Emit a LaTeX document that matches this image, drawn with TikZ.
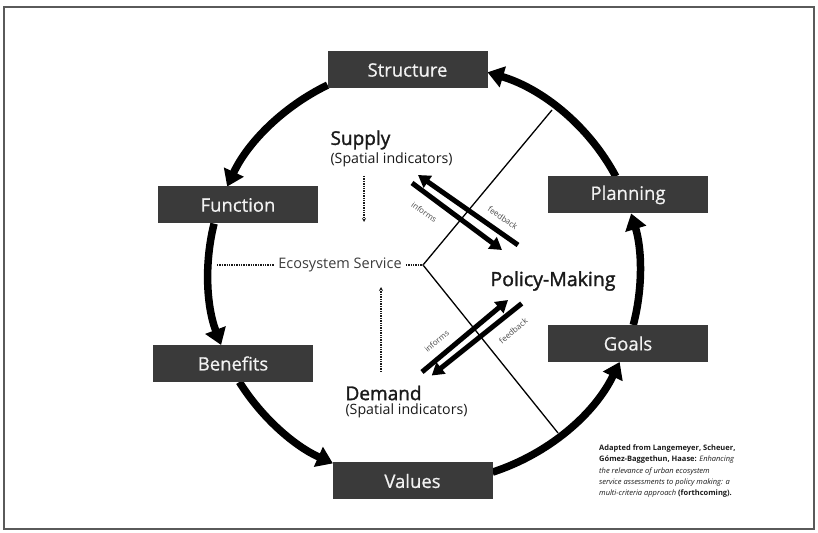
\documentclass[tikz,border=0pt]{standalone}
\usepackage{fontspec}
\setmainfont{Open Sans}
\newfontfamily\semib[FakeBold=1.6]{Open Sans}
\newfontfamily\boxf[FakeBold=0.6]{Open Sans}
\usetikzlibrary{arrows.meta,backgrounds,calc}
\definecolor{boxgray}{HTML}{3A3A3A}
\definecolor{boxtext}{HTML}{F2F2F2}
\definecolor{txt}{HTML}{1A1A1A}
\definecolor{framegray}{HTML}{5A5A5A}
\begin{document}
\begin{tikzpicture}[x=1pt,y=1pt,
  stagebox/.style={fill=boxgray, text=boxtext, minimum width=160pt, minimum height=37pt, inner sep=0pt, font=\boxf\fontsize{18.5}{21}\selectfont},
  cyc/.style={line width=7.5pt, -{Triangle[length=16pt,width=21pt]}},
  pair/.style={line width=5pt, -{Triangle[length=12pt,width=14pt]}},
  divline/.style={line width=1.3pt, black},
  dotline/.style={densely dotted, line width=1.4pt, txt},
  small/.style={font=\fontsize{8}{9}\selectfont, text=txt!80, inner sep=0.5pt},
  bigtext/.style={font=\semib\fontsize{19}{22}\selectfont, text=txt},
  subtext/.style={font=\fontsize{14.2}{17}\selectfont, text=txt},
]
\useasboundingbox (0,0) rectangle (818,532);
\draw[line width=1.2pt, framegray] (4,3) rectangle (814,525);

% stage boxes
\node[stagebox] (structure) at (407.5,462) {Structure};
\node[stagebox] (function) at (238,327) {Function};
\node[stagebox] (benefits) at (233,168.5) {Benefits};
\node[stagebox] (values) at (412.5,51) {Values};
\node[stagebox] (goals) at (628,188.5) {Goals};
\node[stagebox] (planning) at (628,337) {Planning};

% cycle arcs (behind boxes)
\begin{pgfonlayer}{background}
\coordinate (O) at (424,259);
\coordinate (a1) at ($(O)+(27.36:216pt and 210pt)$);
\coordinate (a2) at ($(O)+(116.5:216pt and 210pt)$);
\coordinate (a3) at ($(O)+(166.4:216pt and 210pt)$);
\coordinate (a4) at ($(O)+(211.27:216pt and 210pt)$);
\coordinate (a5) at ($(O)+(288.5:216pt and 210pt)$);
\coordinate (a6) at ($(O)+(345.66:216pt and 210pt)$);
\draw[cyc] (a1) arc[start angle=27.36, end angle=72.9, x radius=216pt, y radius=210pt];
\draw[cyc] (a2) arc[start angle=116.5, end angle=155.7, x radius=216pt, y radius=210pt];
\draw[cyc] (a3) arc[start angle=166.4, end angle=200.05, x radius=216pt, y radius=210pt];
\draw[cyc] (a4) arc[start angle=211.27, end angle=245.06, x radius=216pt, y radius=210pt];
\draw[cyc] (a5) arc[start angle=288.5, end angle=334.93, x radius=216pt, y radius=210pt];
\draw[cyc] (a6) arc[start angle=345.66, end angle=376.46, x radius=216pt, y radius=210pt];
\end{pgfonlayer}

% dividing lines
\coordinate (apex) at (423,267);
\coordinate (ctop) at (552,422);
\coordinate (cbot) at (558,99);
\draw[divline] (ctop) -- (apex) -- (cbot);

% ecosystem service
\node[font=\fontsize{14.5}{17}\selectfont, text=txt!85, inner sep=4pt] (es) at (340,267) {Ecosystem Service};
\coordinate (cleft) at (217,267);
\draw[dotline] (cleft) -- (es.west);
\draw[dotline] (es.east) -- (apex);

% supply / demand / policy
\node[bigtext, anchor=west] (supply) at (327,392) {Supply};
\node[subtext, anchor=west] (supplyind) at (327,372) {(Spatial indicators)};
\node[bigtext, anchor=west] (demand) at (342,139) {Demand};
\node[subtext, anchor=west] (demandind) at (342,121) {(Spatial indicators)};
\node[bigtext, font=\semib\fontsize{19.5}{22}\selectfont] (policy) at (553,251) {Policy-Making};

\coordinate (sd1) at (364,356);
\coordinate (sd2) at (364,310);
\draw[dotline, -{Stealth[length=4pt,width=4pt]}] (sd1) -- (sd2);
\coordinate (dd1) at (381,160);
\coordinate (dd2) at (381,245);
\draw[dotline, -{Stealth[length=4pt,width=4pt]}] (dd1) -- (dd2);

% upper pair
\coordinate (fbus) at (518,287);
\coordinate (fbue) at (418,357);
\coordinate (inus) at (412,349);
\coordinate (inue) at (502,282);
\draw[pair] (fbus) -- (fbue);
\draw[pair] (inus) -- (inue);
\node[small, rotate=-35] (infu) at (424.2,319.9) {informs};
\node[small, rotate=-35] (fbu) at (502.8,314.1) {feedback};

% lower pair
\coordinate (inls) at (422,160);
\coordinate (inle) at (508,232);
\coordinate (fbls) at (521.7,228.5);
\coordinate (fble) at (431.7,156.5);
\draw[pair] (inls) -- (inle);
\draw[pair] (fbls) -- (fble);
\node[small, rotate=40] (infl) at (436.7,190.8) {informs};
\node[small, rotate=40] (fbl) at (513.3,201.2) {feedback};

% source note
\node[anchor=north west, align=left, inner sep=0pt, font=\fontsize{7.5}{11.3}\selectfont, text=txt] (note) at (599,87.5)
{\textbf{Adapted from Langemeyer, Scheuer,}\\
\textbf{Gómez-Baggethun, Haase:} \textit{Enhancing}\\
\textit{the relevance of urban ecosystem}\\
\textit{service assessments to policy making: a}\\
\textit{multi-criteria approach} \textbf{(forthcoming).}};
\end{tikzpicture}
\end{document}
